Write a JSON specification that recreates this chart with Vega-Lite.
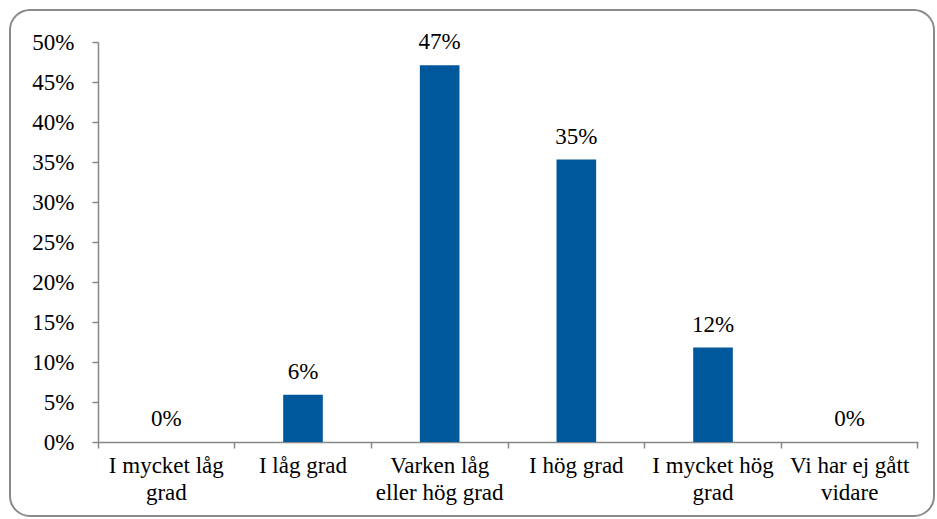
{
  "$schema": "https://vega.github.io/schema/vega-lite/v6.json",
  "autosize": {"type": "none"},
  "width": 820,
  "height": 400,
  "padding": {"left": 98, "top": 42, "right": 19, "bottom": 77},
  "background": "white",
  "config": {
    "view": {"stroke": null},
    "font": "Liberation Serif, Times New Roman, DejaVu Serif, serif"
  },
  "datasets": {
    "svar": [
      {"kategori": "I mycket låg grad", "andel": 0.0},
      {"kategori": "I låg grad", "andel": 0.059},
      {"kategori": "Varken låg eller hög grad", "andel": 0.471},
      {"kategori": "I hög grad", "andel": 0.353},
      {"kategori": "I mycket hög grad", "andel": 0.118},
      {"kategori": "Vi har ej gått vidare", "andel": 0.0}
    ],
    "ram": [{"ram": "diagramram"}]
  },
  "layer": [
    {
      "data": {"name": "ram"},
      "mark": {
        "type": "rect",
        "fill": null,
        "stroke": "#8a8a8a",
        "strokeWidth": 2,
        "cornerRadius": 20,
        "clip": false,
        "x": -88,
        "y": -32,
        "x2": {"expr": "width + 16"},
        "y2": {"expr": "height + 74"}
      },
      "encoding": {}
    },
    {
      "data": {"name": "svar"},
      "encoding": {
        "x": {
          "field": "kategori",
          "type": "nominal",
          "sort": null,
          "scale": {"paddingInner": 0, "paddingOuter": 0},
          "axis": {
            "title": null,
            "labelAngle": 0,
            "labelFontSize": 23,
            "labelColor": "black",
            "labelLineHeight": 27,
            "labelPadding": 6,
            "labelExpr": "datum.value == 'I mycket låg grad' ? ['I mycket låg','grad'] : datum.value == 'Varken låg eller hög grad' ? ['Varken låg','eller hög grad'] : datum.value == 'I mycket hög grad' ? ['I mycket hög','grad'] : datum.value == 'Vi har ej gått vidare' ? ['Vi har ej gått','vidare'] : datum.value",
            "bandPosition": 1,
            "tickExtra": true,
            "tickSize": 6,
            "tickColor": "#888888",
            "tickWidth": 1.5,
            "domainColor": "#888888",
            "domainWidth": 1.5,
            "grid": false
          }
        },
        "y": {
          "field": "andel",
          "type": "quantitative",
          "scale": {"domain": [0, 0.5], "nice": false},
          "axis": {
            "title": null,
            "values": [0, 0.05, 0.1, 0.15, 0.2, 0.25, 0.3, 0.35, 0.4, 0.45, 0.5],
            "format": ".0%",
            "labelFontSize": 23,
            "labelColor": "black",
            "labelPadding": 18,
            "tickSize": 6,
            "tickColor": "#888888",
            "tickWidth": 1.5,
            "domainColor": "#888888",
            "domainWidth": 1.5,
            "grid": false
          }
        }
      },
      "layer": [
        {
          "mark": {"type": "bar", "color": "#00589C", "width": {"band": 0.29}}
        },
        {
          "mark": {
            "type": "text",
            "dy": -16,
            "baseline": "alphabetic",
            "fontSize": 23,
            "color": "black"
          },
          "encoding": {
            "text": {"field": "andel", "type": "quantitative", "format": ".0%"}
          }
        }
      ]
    }
  ]
}
